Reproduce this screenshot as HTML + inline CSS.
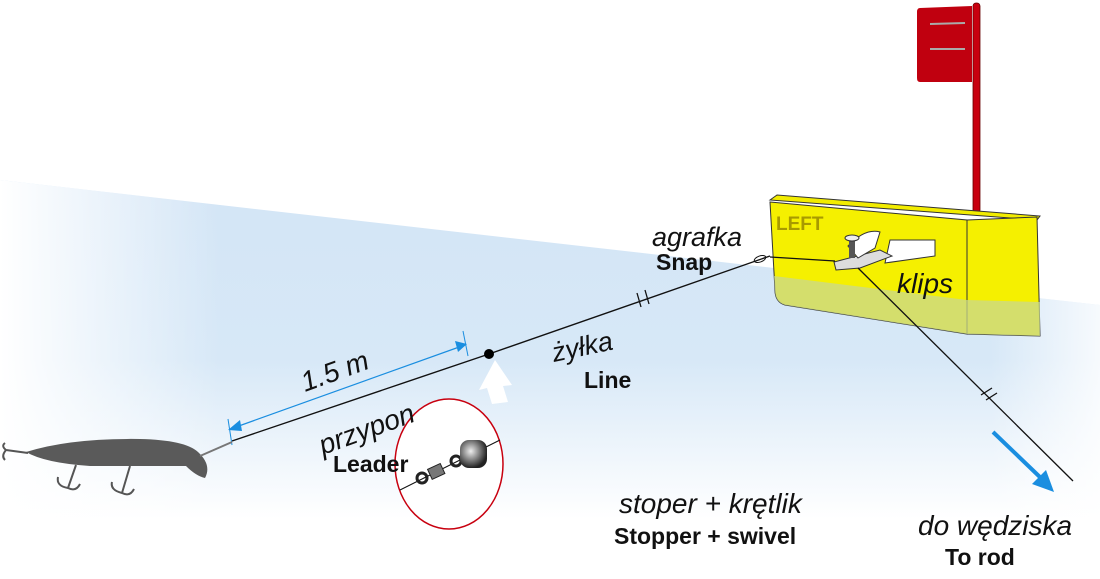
<!DOCTYPE html>
<html><head><meta charset="utf-8"><style>
html,body{margin:0;padding:0;background:#fff;width:1100px;height:579px;overflow:hidden}
svg{display:block}
.it{font-family:"Liberation Sans",sans-serif;font-style:italic;fill:#111}
.b{font-family:"Liberation Sans",sans-serif;font-weight:bold;fill:#111}
</style></head><body>
<svg width="1100" height="579" viewBox="0 0 1100 579" xmlns="http://www.w3.org/2000/svg">
<defs>
<linearGradient id="wv" x1="0" y1="0" x2="0" y2="1">
<stop offset="0" stop-color="#d3e5f6"/><stop offset="0.45" stop-color="#d7e8f7"/><stop offset="0.85" stop-color="#fff"/>
</linearGradient>
<linearGradient id="wh" x1="0" y1="0" x2="1" y2="0">
<stop offset="0" stop-color="#fff" stop-opacity="1"/><stop offset="0.2" stop-color="#fff" stop-opacity="0"/><stop offset="0.9" stop-color="#fff" stop-opacity="0"/><stop offset="1" stop-color="#fff" stop-opacity="0.8"/>
</linearGradient>
<radialGradient id="bd" cx="0.4" cy="0.4" r="0.6"><stop offset="0" stop-color="#eee"/><stop offset="1" stop-color="#222"/></radialGradient>
</defs>
<polygon points="0,180 1100,305 1100,579 0,579" fill="url(#wv)"/>
<polygon points="0,180 1100,305 1100,579 0,579" fill="url(#wh)"/>
<!-- flag -->
<rect x="973" y="3" width="7" height="210" rx="3" fill="#c8000f" stroke="#600" stroke-width="0.8"/>
<path d="M920,8 L972,6 L972,82 L920,82 Q917,82 917,78 L917,12 Q917,8 920,8Z" fill="#c0000f"/>
<line x1="930" y1="24" x2="965" y2="23" stroke="#aaa" stroke-width="2"/>
<line x1="930" y1="49" x2="965" y2="49" stroke="#aaa" stroke-width="2"/>
<!-- board -->
<polygon points="770,200 777,195 1040,216 1037,220" fill="#f2ec00" stroke="#333" stroke-width="1"/>
<path d="M770,202 L967,220 L967,334 L785,305 Q775,302 775,290 Z" fill="#f5f000" stroke="#333" stroke-width="1"/>
<polygon points="967,220 1037,217 1040,336 967,334" fill="#f5f000" stroke="#333" stroke-width="1"/>
<path d="M774,276 L967,300 L1040,302 L1040,336 L967,334 L785,305 Q775,302 775,290Z" fill="#c8d890" opacity="0.75"/>
<text x="776" y="230" font-family="Liberation Sans,sans-serif" font-weight="bold" font-size="19" fill="#a89a00">LEFT</text>
<!-- clip -->
<path d="M890,240 L935,240 L935,256 L885,263Z" fill="#fff" stroke="#333"/>
<path d="M834,262 L880,250 L892,256 L860,268 L836,270Z" fill="#ddd" stroke="#333"/>
<path d="M848,246 Q865,228 880,232 L875,248 L858,258Z" fill="#fff" stroke="#333"/>
<rect x="849" y="240" width="6" height="18" fill="#555"/>
<ellipse cx="852" cy="238" rx="7" ry="3" fill="#eee" stroke="#333"/>
<!-- lines -->
<polyline points="232,441 489,354 770,256" fill="none" stroke="#111" stroke-width="1.4"/>
<line x1="770" y1="257" x2="835" y2="261" stroke="#111" stroke-width="1.3"/>
<line x1="858" y1="268" x2="1073" y2="481" stroke="#111" stroke-width="1.3"/>
<line x1="637" y1="293" x2="641" y2="307" stroke="#111" stroke-width="1.3"/>
<line x1="645" y1="290" x2="649" y2="304" stroke="#111" stroke-width="1.3"/>
<line x1="981" y1="395" x2="992" y2="388" stroke="#111" stroke-width="1.3"/>
<line x1="986" y1="400" x2="997" y2="393" stroke="#111" stroke-width="1.3"/>
<ellipse cx="760" cy="259" rx="6" ry="3" fill="none" stroke="#111" transform="rotate(-20 760 259)"/>
<circle cx="489" cy="354" r="5" fill="#000"/>
<!-- dimension -->
<line x1="228" y1="419" x2="232" y2="445" stroke="#1a8ee0" stroke-width="1"/>
<line x1="463" y1="331" x2="468" y2="356" stroke="#1a8ee0" stroke-width="1"/>
<line x1="236" y1="427" x2="462" y2="346" stroke="#1a8ee0" stroke-width="1.2"/>
<polygon points="228,430 240,420 242,431" fill="#1a8ee0"/>
<polygon points="467,344 455,341 458,352" fill="#1a8ee0"/>
<!-- lure -->
<path d="M26,452 Q70,438 140,439 Q185,440 198,452 Q212,465 205,478 Q196,476 186,466 Q150,466 90,466 Q45,463 26,452Z" fill="#5a5a5a"/>
<line x1="200" y1="456" x2="232" y2="442" stroke="#777" stroke-width="2"/>
<path d="M6,450 L28,453 M6,450 Q1,446 5,443 M6,450 Q1,456 5,460" fill="none" stroke="#555" stroke-width="2"/>
<path d="M76,465 L68,488 M68,488 Q56,486 58,477 M68,488 Q76,492 80,484" fill="none" stroke="#555" stroke-width="2"/>
<path d="M130,466 L122,493 M122,493 Q110,490 112,482 M122,493 Q130,497 134,489" fill="none" stroke="#555" stroke-width="2"/>
<!-- white arrow -->
<polygon points="495,360 512,385 503,386 508,402 492,404 487,388 479,390" fill="#fff"/>
<!-- circle -->
<ellipse cx="449" cy="464" rx="54" ry="65" fill="#fff" stroke="#c8000f" stroke-width="1.5"/>
<line x1="400" y1="490" x2="500" y2="440" stroke="#111" stroke-width="1"/>
<circle cx="422" cy="478" r="5" fill="none" stroke="#222" stroke-width="3"/>
<rect x="429" y="466" width="14" height="11" fill="#777" stroke="#222" transform="rotate(-25 436 471)"/>
<circle cx="456" cy="461" r="5" fill="none" stroke="#222" stroke-width="3"/>
<rect x="460" y="440" width="27" height="28" rx="9" fill="url(#bd)"/>
<!-- blue arrow -->
<line x1="993" y1="432" x2="1043" y2="480" stroke="#1a8ee0" stroke-width="4"/>
<polygon points="1054,492 1032,484 1046,470" fill="#1a8ee0"/>
<!-- text -->
<text class="it" x="652" y="246" font-size="27">agrafka</text>
<text class="b" x="656" y="270" font-size="23">Snap</text>
<text class="it" x="554" y="362" font-size="27" transform="rotate(-12 554 362)">żyłka</text>
<text class="b" x="584" y="388" font-size="23">Line</text>
<text class="it" x="305" y="392" font-size="28" transform="rotate(-20 305 392)">1.5 m</text>
<text class="it" x="323" y="455" font-size="28" transform="rotate(-20 323 455)">przypon</text>
<text class="b" x="333" y="472" font-size="23">Leader</text>
<text class="it" x="897" y="293" font-size="28">klips</text>
<text class="it" x="619" y="513" font-size="28">stoper + krętlik</text>
<text class="b" x="614" y="544" font-size="23">Stopper + swivel</text>
<text class="it" x="918" y="535" font-size="28">do wędziska</text>
<text class="b" x="945" y="565" font-size="23">To rod</text>
</svg>
</body></html>
